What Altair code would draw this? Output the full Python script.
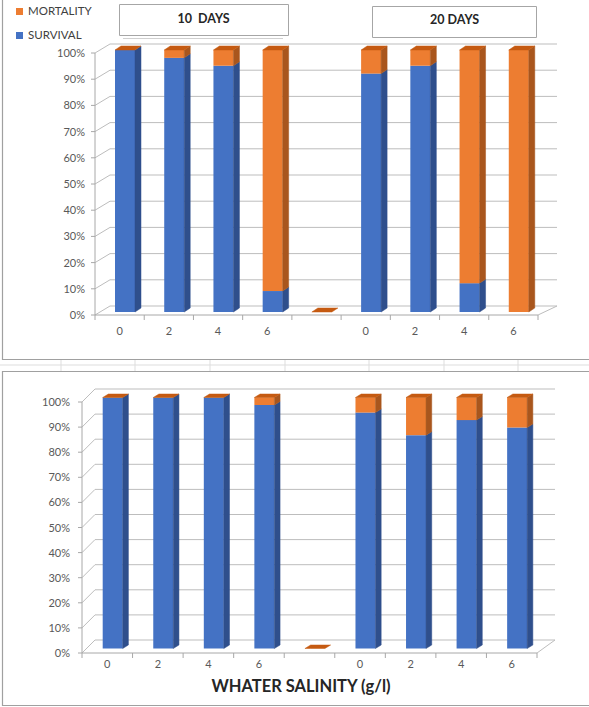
import altair as alt
import pandas as pd

# ---------------- data ----------------
categories = ["0", "2", "4", "6", "", "0", "2", "4", "6"]
survival_top = [100, 97, 94, 8, 0, 91, 94, 11, 0]
mortality_top = [0, 3, 6, 92, 0, 9, 6, 89, 100]
survival_bottom = [100, 100, 100, 97, 0, 94, 85, 91, 88]
mortality_bottom = [0, 0, 0, 3, 0, 6, 15, 9, 12]
y_ticks = [0, 10, 20, 30, 40, 50, 60, 70, 80, 90, 100]
y_tick_labels = ["0%", "10%", "20%", "30%", "40%", "50%", "60%", "70%", "80%", "90%", "100%"]
legend_labels = ["MORTALITY", "SURVIVAL"]
period_labels = ["10\u00a0 DAYS", "20 DAYS"]
x_title = "WHATER SALINITY (g/l)"

# ---------------- styles ----------------
FRONT = {"SURVIVAL": "#4472C4", "MORTALITY": "#ED7D31"}
SIDE = {"SURVIVAL": "#2F4F8C", "MORTALITY": "#A9561D"}
CAP = "#C55A11"
GRID = "#BDBDBD"
AXIS = "#A8A8A8"
LABEL = "#595959"
FONT = "Lato"

TOP = dict(x0=95, x1=538, y0=315, y100=53, bar_left=20, bar_w=20, bar_dy=3,
           depth_dx=6, depth_dy=4, wall_dx=15, wall_dy=9, floor_dx=19,
           xlab_y=332, ylab_x=85)
BOT = dict(x0=82, x1=537, y0=653, y100=402, bar_left=20.7, bar_w=20, bar_dy=4.5,
           depth_dx=5.7, depth_dy=3.5, wall_dx=13, wall_dy=13, floor_dx=18,
           xlab_y=665, ylab_x=70)


def panel(p, surv, mort):
    sx = (p["x1"] - p["x0"]) / 9.0
    sy = (p["y0"] - p["y100"]) / 100.0
    X = alt.Scale(domain=[0, 9], range=[p["x0"], p["x1"]], nice=False, zero=False)
    Y = alt.Scale(domain=[0, 100], range=[p["y0"], p["y100"]], nice=False, zero=False)

    def ex(f="x"):
        return alt.X(f + ":Q", scale=X, axis=None)

    def ey(f="y"):
        return alt.Y(f + ":Q", scale=Y, axis=None)

    layers = []
    wdx, wdy = p["wall_dx"] / sx, p["wall_dy"] / sy
    fdx = p["floor_dx"] / sx

    # back wall gridlines
    g = pd.DataFrame({"y": [t + wdy for t in y_ticks], "x": wdx, "x2": 9 + fdx})
    layers.append(alt.Chart(g).mark_rule(color=GRID, strokeWidth=1).encode(
        x=ex(), x2="x2:Q", y=ey()))
    # left wall diagonals
    d = pd.DataFrame({"x": 0.0, "x2": wdx, "y": y_ticks, "y2": [t + wdy for t in y_ticks]})
    layers.append(alt.Chart(d).mark_rule(color=GRID, strokeWidth=1).encode(
        x=ex(), x2="x2:Q", y=ey(), y2="y2:Q"))
    # floor right diagonal
    fr = pd.DataFrame({"x": [9.0], "x2": [9 + fdx], "y": [0.0], "y2": [wdy]})
    layers.append(alt.Chart(fr).mark_rule(color=GRID, strokeWidth=1).encode(
        x=ex(), x2="x2:Q", y=ey(), y2="y2:Q"))
    # axes lines
    ax = pd.DataFrame({"x": [0.0, 0.0], "x2": [9.0, 0.0], "y": [0.0, 0.0], "y2": [0.0, 100.0]})
    layers.append(alt.Chart(ax).mark_rule(color=AXIS, strokeWidth=1).encode(
        x=ex(), x2="x2:Q", y=ey(), y2="y2:Q"))
    # y ticks
    yt = pd.DataFrame({"x": -4 / sx, "x2": 0.0, "y": y_ticks})
    layers.append(alt.Chart(yt).mark_rule(color=AXIS, strokeWidth=1).encode(
        x=ex(), x2="x2:Q", y=ey()))
    # x ticks
    xt = pd.DataFrame({"x": list(range(10)), "y": 0.0, "y2": -5 / sy})
    layers.append(alt.Chart(xt).mark_rule(color=AXIS, strokeWidth=1).encode(
        x=ex(), y=ey(), y2="y2:Q"))

    # bars
    b = p["bar_dy"] / sy
    ddx, ddy = p["depth_dx"] / sx, p["depth_dy"] / sy
    fronts, sides, caps = [], [], []
    sid = 0
    for i in range(9):
        xl = i + p["bar_left"] / sx
        xr = xl + p["bar_w"] / sx
        s, m = surv[i], mort[i]
        segs = [("SURVIVAL", 0, s), ("MORTALITY", s, s + m)]
        for name, lo, hi in segs:
            if hi > lo:
                fronts.append(dict(series=name, x=xl, x2=xr, y=lo + b, y2=hi + b))
                sides.append(dict(series=name, id=sid, x=xr, y=lo + b, y2=hi + b))
                sides.append(dict(series=name, id=sid, x=xr + ddx, y=lo + b + ddy, y2=hi + b + ddy))
                sid += 1
        T = s + m + b
        caps += [dict(id=i, x=xl, y=T, y2=T),
                 dict(id=i, x=xl + ddx, y=T, y2=T + ddy),
                 dict(id=i, x=xr, y=T, y2=T + ddy),
                 dict(id=i, x=xr + ddx, y=T + ddy, y2=T + ddy)]
    names = ["SURVIVAL", "MORTALITY"]
    layers.append(alt.Chart(pd.DataFrame(fronts)).mark_rect().encode(
        x=ex(), x2="x2:Q", y=ey(), y2="y2:Q",
        color=alt.Color("series:N", scale=alt.Scale(domain=names, range=[FRONT[n] for n in names]), legend=None)))
    layers.append(alt.Chart(pd.DataFrame(sides)).mark_area(strokeWidth=0.5).encode(
        x=ex(), y=ey(), y2="y2:Q", detail="id:N",
        color=alt.Color("series:N", scale=alt.Scale(domain=names, range=[SIDE[n] for n in names]), legend=None),
        stroke=alt.Stroke("series:N", scale=alt.Scale(domain=names, range=[SIDE[n] for n in names]), legend=None)))
    layers.append(alt.Chart(pd.DataFrame(caps)).mark_area(color=CAP, stroke=CAP, strokeWidth=0.5).encode(
        x=ex(), y=ey(), y2="y2:Q", detail="id:N"))

    # labels
    yl = pd.DataFrame({"y": y_ticks, "label": y_tick_labels})
    layers.append(alt.Chart(yl).mark_text(align="right", baseline="middle", font=FONT, fontSize=11,
                                          color=LABEL, dy=1).encode(
        x=alt.value(p["ylab_x"]), y=ey(), text="label:N"))
    xl_df = pd.DataFrame({"x": [i + 0.5 for i in range(9)], "label": categories})
    layers.append(alt.Chart(xl_df).mark_text(align="center", baseline="middle", font=FONT, fontSize=11,
                                             color=LABEL).encode(
        x=ex(), y=alt.value(p["xlab_y"]), text="label:N"))
    return layers


one = pd.DataFrame({"k": [0]})
deco = []
# chart frames
deco.append(alt.Chart(one).mark_rect(fill="white", stroke="#A0A0A0", strokeWidth=1.2).encode(
    x=alt.value(2.5), x2=alt.value(640), y=alt.value(-10), y2=alt.value(359.5)))
cells = pd.DataFrame({"x": [61, 135, 210, 285, 369, 444, 518]})
deco.append(alt.Chart(cells).mark_rule(color="#DDDDDD", strokeWidth=1).encode(
    x=alt.X("x:Q", scale=alt.Scale(domain=[0, 589], range=[0, 589]), axis=None),
    y=alt.value(360), y2=alt.value(371)))
deco.append(alt.Chart(one).mark_rule(color="#DDDDDD", strokeWidth=1).encode(
    x=alt.value(0), x2=alt.value(589), y=alt.value(365)))
deco.append(alt.Chart(one).mark_rect(fill="white", stroke="#A0A0A0", strokeWidth=1.2).encode(
    x=alt.value(2.5), x2=alt.value(640), y=alt.value(371.5), y2=alt.value(705.5)))

# period header boxes
hb = pd.DataFrame({"label": period_labels, "x": [119.5, 372.5], "x2": [288.5, 536.5],
                   "y": [4.5, 6.5], "y2": [35.5, 37.5], "tx": [203.5, 454.5], "ty": [18.5, 20]})
hscale = alt.Scale(domain=[0, 589], range=[0, 589])
vscale = alt.Scale(domain=[0, 707], range=[0, 707])
deco.append(alt.Chart(hb).mark_rect(fill="white", stroke="#A6A6A6", strokeWidth=1).encode(
    x=alt.X("x:Q", scale=hscale, axis=None), x2="x2:Q",
    y=alt.Y("y:Q", scale=vscale, axis=None), y2="y2:Q"))
deco.append(alt.Chart(one).mark_rule(color="#D0D0D0", strokeWidth=1).encode(
    x=alt.value(123), x2=alt.value(283), y=alt.value(38.5)))

layers = deco + panel(TOP, survival_top, mortality_top) + panel(BOT, survival_bottom, mortality_bottom)

layers.append(alt.Chart(hb).mark_text(font=FONT, fontSize=12.5, fontWeight="bold", color="#262626",
                                      align="center", baseline="middle").encode(
    x=alt.X("tx:Q", scale=hscale, axis=None), y=alt.Y("ty:Q", scale=vscale, axis=None), text="label:N"))

# legend
leg = pd.DataFrame({"label": legend_labels, "idx": [0, 1]})
leg["y"] = 8 + 24 * leg["idx"]
leg["y2"] = leg["y"] + 7
leg["ty"] = leg["y"] + 4
lscale = alt.Scale(domain=legend_labels, range=[FRONT["MORTALITY"], FRONT["SURVIVAL"]])
deco_leg = alt.Chart(leg).mark_rect().encode(
    x=alt.value(16), x2=alt.value(23),
    y=alt.Y("y:Q", scale=vscale, axis=None), y2="y2:Q",
    color=alt.Color("label:N", scale=lscale, legend=None))
deco_legt = alt.Chart(leg).mark_text(font=FONT, fontSize=11.5, color="#404040", align="left",
                                     baseline="middle").encode(
    x=alt.value(28), y=alt.Y("ty:Q", scale=vscale, axis=None), text="label:N")
layers += [deco_leg, deco_legt]

# x title
tt = pd.DataFrame({"t": [x_title]})
layers.append(alt.Chart(tt).mark_text(font=FONT, fontSize=16.5, fontWeight="bold", color="#262626",
                                      align="center", baseline="middle").encode(
    x=alt.value(301), y=alt.value(687), text="t:N"))

chart = alt.layer(*layers).resolve_scale(
    x="independent", y="independent", color="independent", stroke="independent"
).properties(
    width=589, height=707, padding=0, autosize=alt.AutoSizeParams(type="none"),
    background="white"
).configure_view(stroke=None)

chart.save("out.html", embed_options={"renderer": "svg", "actions": False})
